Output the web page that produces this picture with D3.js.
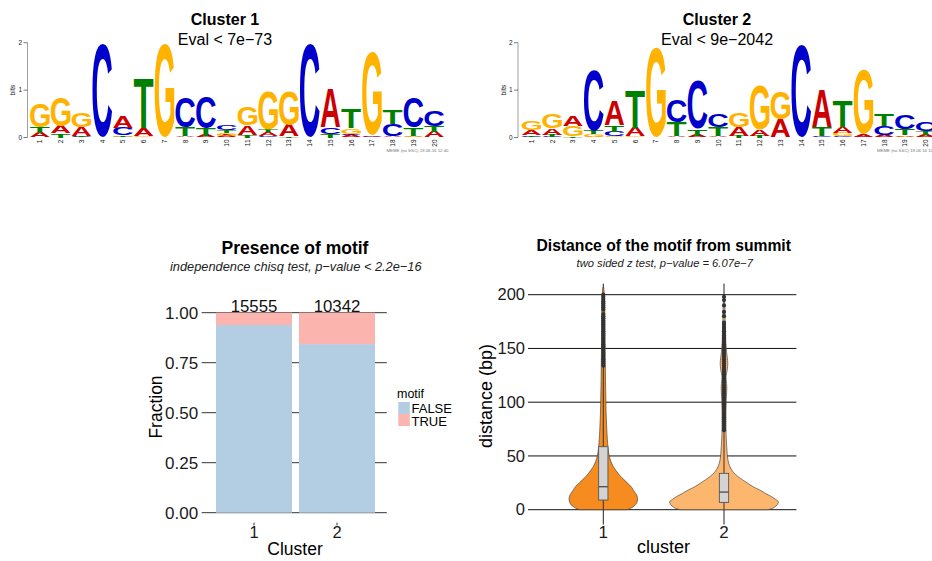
<!DOCTYPE html>
<html><head><meta charset="utf-8">
<script src="https://cdn.jsdelivr.net/npm/d3@7"></script>
<style>
body{margin:0;background:#fff}
svg{display:block}
text{font-family:"Liberation Sans",Arial,Helvetica,sans-serif}
</style>
</head><body>
<svg id="c" width="932" height="561"></svg>
<script>
// ---------------- DATA ----------------
const logoPositions = [1,2,3,4,5,6,7,8,9,10,11,12,13,14,15,16,17,18,19,20];
const logoBitTicks = [0,1,2];
const logo1Title = "Cluster 1", logo1Eval = "Eval < 7e\u221273";
const logo2Title = "Cluster 2", logo2Eval = "Eval < 9e\u22122042";
const logoStamp1 = "MEME (no SSC) 19.06.16 12:40";
const logoStamp2 = "MEME (no SSC) 19.06.16 12:13";
// stacks bottom -> top : [letter, bits]
const logo1Stacks = [
  [["A",0.1],["T",0.12],["G",0.5]],
  [["T",0.085],["A",0.155],["G",0.62]],
  [["C",0.02],["T",0.015],["A",0.19],["G",0.29]],
  [["A",0.01],["C",1.98]],
  [["G",0.02],["T",0.03],["C",0.15],["A",0.25]],
  [["G",0.02],["A",0.17],["T",1.02]],
  [["A",0.01],["G",1.98]],
  [["A",0.03],["T",0.18],["C",0.64]],
  [["A",0.04],["T",0.16],["C",0.67]],
  [["A",0.04],["G",0.06],["T",0.05],["C",0.1]],
  [["T",0.06],["A",0.2],["G",0.38]],
  [["C",0.03],["A",0.09],["T",0.05],["G",0.79]],
  [["T",0.02],["A",0.23],["G",0.72]],
  [["C",1.98]],
  [["T",0.07],["C",0.14],["A",0.82]],
  [["A",0.05],["C",0.03],["G",0.12],["T",0.41]],
  [["C",0.02],["A",0.02],["G",1.74]],
  [["A",0.03],["C",0.25],["T",0.30]],
  [["A",0.02],["G",0.02],["T",0.17],["C",0.65]],
  [["A",0.12],["T",0.12],["C",0.34]]
];
const logo2Stacks = [
  [["C",0.02],["T",0.03],["A",0.1],["G",0.2]],
  [["C",0.02],["T",0.04],["A",0.13],["G",0.31]],
  [["T",0.03],["G",0.21],["A",0.21]],
  [["A",0.02],["G",0.05],["T",0.07],["C",1.27]],
  [["G",0.02],["C",0.1],["T",0.13],["A",0.52]],
  [["G",0.03],["A",0.18],["T",0.8]],
  [["A",0.01],["G",1.9]],
  [["A",0.03],["T",0.3],["C",0.47]],
  [["A",0.04],["T",0.14],["C",1.03]],
  [["A",0.03],["T",0.19],["C",0.28]],
  [["T",0.04],["A",0.18],["G",0.3]],
  [["T",0.04],["A",0.13],["G",0.93]],
  [["A",0.39],["G",0.59]],
  [["C",1.95]],
  [["C",0.03],["T",0.19],["A",0.79]],
  [["C",0.02],["G",0.08],["A",0.12],["T",0.53]],
  [["C",0.02],["A",0.06],["G",1.36]],
  [["A",0.04],["C",0.2],["T",0.25]],
  [["G",0.02],["A",0.03],["T",0.13],["C",0.29]],
  [["G",0.02],["A",0.04],["T",0.08],["C",0.19]]
];
const letterColors = {A:"#CC0000", C:"#0000CC", G:"#FFB300", T:"#008000"};

const barClusters = ["1","2"];
const barFalse = [0.9385, 0.843];
const barTrue  = [0.0615, 0.157];
const barCounts = ["15555","10342"];
const fractionTicks = [0, 0.25, 0.5, 0.75, 1];
const motifLevels = ["FALSE","TRUE"];
const motifColors = ["#B3CDE3","#FBB4AE"];

const violinClusters = ["1","2"];
const violinColors = ["#F68B1F","#FDB66E"];
const distanceTicks = [0,50,100,150,200];
// [distance, relative density]
const violinDensity1 = [[0,0.44],[2,0.53],[5,0.60],[9,0.63],[13,0.62],[17,0.57],[21,0.52],[25,0.44],[28,0.38],[32,0.30],[36,0.24],[40,0.185],[45,0.14],[50,0.11],[58,0.087],[74,0.065],[90,0.052],[105,0.046],[120,0.041],[135,0.037],[150,0.033],[170,0.03],[190,0.026],[200,0.02],[207,0.006]];
const violinDensity2 = [[0,0.81],[2,0.92],[5,0.985],[7.4,1.0],[10,0.94],[12,0.88],[15,0.77],[18.3,0.66],[21,0.55],[24.5,0.44],[27.5,0.35],[30.7,0.26],[35.3,0.166],[40,0.11],[46,0.074],[52,0.059],[58.6,0.05],[66,0.042],[74,0.037],[85,0.035],[95,0.037],[105,0.044],[114,0.052],[120,0.042],[124,0.037],[130,0.059],[136,0.07],[142,0.059],[150,0.04],[160,0.03],[175,0.022],[190,0.015],[197,0.005]];
const boxQ1 = [9, 6.8];
const boxMedian = [21.4, 16.4];
const boxQ3 = [58.6, 33.8];
const whiskerLow = [0, 0];
const whiskerHigh = [133, 74];
const outliers1 = [134,136,138,140,142,144,146,148,150,152,154,156,158,160,162,164,166,168,170,172,174,176,178,180,182,186,188,190,192,194,196,198,200];
const outliers2 = [74,76,78,80,82,84,86,88,90,92,94,96,98,100,102,104,106,108,110,112,114,116,118,120,122,124,126,128,130,132,134,136,138,140,142,144,146,148,150,152,154,156,158,160,162,164,166,168,170,172,174,180,184,190,195,198];

// ---------------- DRAW ----------------
const svg = d3.select("#c");

const ctx = document.createElement("canvas").getContext("2d");
const GF = 200;
ctx.font = `bold ${GF}px "Liberation Sans"`;
const gm = {};
["A","C","G","T"].forEach(ch => {
  const m = ctx.measureText(ch);
  gm[ch] = {l:m.actualBoundingBoxLeft, r:m.actualBoundingBoxRight, a:m.actualBoundingBoxAscent, d:m.actualBoundingBoxDescent};
});

function drawLogo(stacks, axisX, firstX, lastX, title, evalText, stamp, titleX) {
  const g = svg.append("g");
  const x = d3.scaleLinear().domain([1,20]).range([firstX, lastX]);
  const y = d3.scaleLinear().domain([0,2]).range([137.5, 42.7]);
  const W = 19.6;
  g.append("text").attr("x", titleX).attr("y", 25).attr("text-anchor","middle")
    .attr("font-size",16).attr("font-weight","bold").text(title);
  g.append("text").attr("x", titleX).attr("y", 45).attr("text-anchor","middle")
    .attr("font-size",16).text(evalText);
  g.append("line").attr("x1",axisX).attr("x2",axisX).attr("y1",y(0)).attr("y2",y(2))
    .attr("stroke","#888").attr("stroke-width",0.8);
  logoBitTicks.forEach(t => {
    g.append("line").attr("x1",axisX-4).attr("x2",axisX).attr("y1",y(t)).attr("y2",y(t))
      .attr("stroke","#444").attr("stroke-width",0.7);
    g.append("text").attr("x",axisX-5.5).attr("y",y(t)).attr("dy","0.35em")
      .attr("text-anchor","end").attr("font-size",6.5).attr("fill","#222").text(t);
  });
  g.append("text").attr("transform",`translate(${axisX-12.5},${y(1)}) rotate(-90)`)
    .attr("text-anchor","middle").attr("font-size",7).attr("fill","#222").text("bits");
  stacks.forEach((stack, i) => {
    const cx = x(logoPositions[i]);
    const xl = cx - W/2;
    let cum = 0;
    stack.forEach(([ch, h]) => {
      const yb = y(cum), yt = y(cum + h);
      cum += h;
      const hp = yb - yt;
      if (hp <= 0) return;
      const m = gm[ch];
      const sx = W / (m.l + m.r), sy = hp / (m.a + m.d);
      g.append("text").attr("x",0).attr("y",0)
        .attr("font-size",GF).attr("font-weight","bold")
        .attr("fill", letterColors[ch])
        .attr("transform",`translate(${xl + m.l*sx},${yb - m.d*sy}) scale(${sx},${sy})`)
        .text(ch);
    });
    g.append("text").attr("transform",`translate(${cx+2.3},${139.5}) rotate(-90)`)
      .attr("text-anchor","end").attr("font-size",6.5).attr("fill","#111").text(logoPositions[i]);
  });
  g.append("text").attr("x", axisX + 421).attr("y", 151.5).attr("text-anchor","end")
    .attr("font-size",4.2).attr("fill","#777")
    .attr("textLength",62).attr("lengthAdjust","spacingAndGlyphs").text(stamp);
}
drawLogo(logo1Stacks, 27.5, 40, 434.25, logo1Title, logo1Eval, logoStamp1, 225);
drawLogo(logo2Stacks, 518, 531.5, 925.75, logo2Title, logo2Eval, logoStamp2, 717);

// ---------------- BAR CHART ----------------
{
  const g = svg.append("g");
  const x = d3.scaleBand().domain(barClusters).range([204.2, 386.8]).paddingInner(0.0843).paddingOuter(0.142);
  const y = d3.scaleLinear().domain([0,1]).range([512.7, 312.7]);
  g.append("text").attr("x",295).attr("y",253.8).attr("text-anchor","middle")
    .attr("font-size",17.5).attr("font-weight","bold").text("Presence of motif");
  g.append("text").attr("x",295.8).attr("y",270.8).attr("text-anchor","middle")
    .attr("font-size",12.8).attr("font-style","italic").attr("fill","#222")
    .text("independence chisq test, p\u2212value < 2.2e\u221216");
  fractionTicks.forEach(t => {
    g.append("line").attr("x1",201.7).attr("x2",386.8).attr("y1",y(t)).attr("y2",y(t))
      .attr("stroke","#333").attr("stroke-width",1);
  });
  const yAxis = d3.axisLeft(y).tickValues(fractionTicks).tickFormat(d3.format(".2f")).tickSize(0).tickPadding(6);
  const ya = g.append("g").attr("transform","translate(204.2,0)").call(yAxis);
  ya.select(".domain").remove();
  ya.selectAll("text").attr("font-size",17).attr("fill","#1a1a1a").attr("font-family",'"Liberation Sans",Arial,sans-serif');
  barClusters.forEach((c,i) => {
    g.append("rect").attr("x",x(c)).attr("width",x.bandwidth())
      .attr("y",y(barFalse[i])).attr("height",y(0)-y(barFalse[i])).attr("fill",motifColors[0]);
    g.append("rect").attr("x",x(c)).attr("width",x.bandwidth())
      .attr("y",y(barFalse[i]+barTrue[i])).attr("height",y(barFalse[i])-y(barFalse[i]+barTrue[i])).attr("fill",motifColors[1]);
    g.append("text").attr("x",x(c)+x.bandwidth()/2).attr("y",y(1)-1).attr("text-anchor","middle")
      .attr("font-size",16.8).attr("fill","#111").text(barCounts[i]);
    const cx = x(c)+x.bandwidth()/2;
    g.append("line").attr("x1",cx).attr("x2",cx).attr("y1",522.7).attr("y2",525.4).attr("stroke","#333");
    g.append("text").attr("x",cx).attr("y",538).attr("text-anchor","middle")
      .attr("font-size",16.5).attr("fill","#1a1a1a").text(c);
  });
  g.append("text").attr("x",295).attr("y",555).attr("text-anchor","middle").attr("font-size",17.5).text("Cluster");
  g.append("text").attr("transform","translate(161.5,407) rotate(-90)").attr("text-anchor","middle").attr("font-size",17.5).text("Fraction");
  g.append("text").attr("x",397).attr("y",398).attr("font-size",12.5).text("motif");
  motifLevels.forEach((lv,i) => {
    g.append("rect").attr("x",398.3).attr("y",402+i*12).attr("width",11.5).attr("height",12).attr("fill",motifColors[i]);
    g.append("text").attr("x",411.5).attr("y",412.7+i*13.3).attr("font-size",13).text(lv);
  });
}

// ---------------- VIOLIN CHART ----------------
{
  const g = svg.append("g");
  const x = d3.scalePoint().domain(violinClusters).range([603.3, 724]);
  const y = d3.scaleLinear().domain([0,200]).range([509.7, 294.7]);
  const w = d3.scaleLinear().domain([0,1]).range([0,54.3]);
  g.append("text").attr("x",663.7).attr("y",250.6).attr("text-anchor","middle")
    .attr("font-size",15.7).attr("font-weight","bold").text("Distance of the motif from summit");
  g.append("text").attr("x",664.7).attr("y",266.8).attr("text-anchor","middle")
    .attr("font-size",11.2).attr("font-style","italic").attr("fill","#222")
    .text("two sided z test, p\u2212value = 6.07e\u22127");
  distanceTicks.forEach(t => {
    g.append("line").attr("x1",528).attr("x2",796.4).attr("y1",y(t)).attr("y2",y(t))
      .attr("stroke","#111").attr("stroke-width",1);
  });
  const yAxis = d3.axisLeft(y).tickValues(distanceTicks).tickSize(0).tickPadding(5);
  const ya = g.append("g").attr("transform","translate(530,0)").call(yAxis);
  ya.select(".domain").remove();
  ya.selectAll("text").attr("font-size",16.5).attr("fill","#1a1a1a").attr("font-family",'"Liberation Sans",Arial,sans-serif');
  const dens = [violinDensity1, violinDensity2];
  const outl = [outliers1, outliers2];
  violinClusters.forEach((c,i) => {
    const cx = x(c);
    g.append("line").attr("x1",cx).attr("x2",cx).attr("y1",283.6).attr("y2",524.5)
      .attr("stroke","#222").attr("stroke-width",1);
  });
  violinClusters.forEach((c,i) => {
    const cx = x(c);
    const area = d3.area().curve(d3.curveCatmullRom)
      .y(d => y(d[0])).x0(d => cx - w(d[1])).x1(d => cx + w(d[1]));
    g.append("path").attr("d", area(dens[i])).attr("fill", violinColors[i])
      .attr("stroke","#333").attr("stroke-width",0.6);
    g.append("line").attr("x1",cx).attr("x2",cx).attr("y1",y(whiskerLow[i])).attr("y2",y(boxQ1[i])).attr("stroke","#333");
    g.append("line").attr("x1",cx).attr("x2",cx).attr("y1",y(boxQ3[i])).attr("y2",y(whiskerHigh[i])).attr("stroke","#333");
    g.append("rect").attr("x",cx-4.65).attr("width",9.3).attr("y",y(boxQ3[i])).attr("height",y(boxQ1[i])-y(boxQ3[i]))
      .attr("fill","#D3D3D3").attr("stroke","#555").attr("stroke-width",0.9);
    g.append("line").attr("x1",cx-4.65).attr("x2",cx+4.65).attr("y1",y(boxMedian[i])).attr("y2",y(boxMedian[i]))
      .attr("stroke","#555").attr("stroke-width",1.4);
    g.selectAll(null).data(outl[i]).enter().append("circle")
      .attr("cx",cx).attr("cy",d => y(d)).attr("r",2.1).attr("fill","#333");
    g.append("text").attr("x",cx).attr("y",538.3).attr("text-anchor","middle").attr("font-size",17).attr("fill","#1a1a1a").text(c);
  });
  g.append("text").attr("x",663.5).attr("y",553.3).attr("text-anchor","middle").attr("font-size",18).text("cluster");
  g.append("text").attr("transform","translate(492,396) rotate(-90)").attr("text-anchor","middle").attr("font-size",18).text("distance (bp)");
}
</script>
</body></html>
